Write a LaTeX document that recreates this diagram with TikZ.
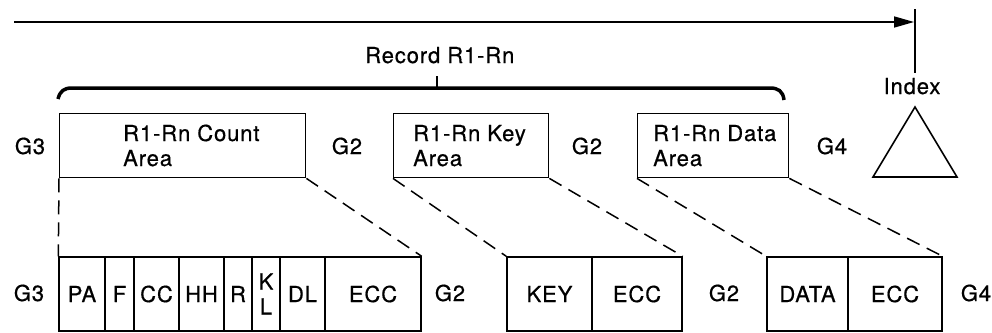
\documentclass[tikz,border=0pt]{standalone}
\usepackage{fontspec}
\setmainfont{TeX Gyre Heros}[LetterSpace=4,FakeBold=0.6]
\usetikzlibrary{arrows.meta}
\tikzset{
  txt/.style={inner sep=0pt, font=\fontsize{22}{26}\selectfont},
  lbl/.style={txt, anchor=base},
  boxtext/.style={txt, anchor=base west},
  areabox/.style={draw, line width=1.4pt, inner sep=0pt, anchor=north west, minimum height=64pt},
  cell/.style={draw, line width=1.4pt, inner sep=0pt, minimum height=74pt, txt},
  conn/.style={line width=1.5pt, dash pattern=on 14pt off 8pt},
}
\begin{document}
\begin{tikzpicture}[x=1pt,y=-1pt]
\useasboundingbox (0,0) rectangle (992,332);
% top arrow
\coordinate (as) at (14,22);
\coordinate (ae) at (914,22);
\draw[line width=1.7pt, -{Triangle[length=20pt,width=11pt]}] (as) -- (ae);
\coordinate (vt) at (915,9);
\coordinate (vb) at (915,73);
\draw[line width=1.4pt] (vt) -- (vb);
\node[lbl] (index) at (912,94) {Index};
% record label and brace
\node[txt, anchor=base west] (record) at (365,63) {Record R1-Rn};
\draw[line width=3.5pt] (58,99) .. controls (60,91) and (64,88) .. (72,88) -- (770,88) .. controls (778,88) and (783,91) .. (784,100);
\coordinate (tk1) at (437,76);
\coordinate (tk2) at (437,88);
\draw[line width=1.6pt] (tk1) -- (tk2);
% top boxes
\node[areabox, minimum width=246pt] (cnt) at (59,113) {};
\node[areabox, minimum width=155pt] (key) at (393,113) {};
\node[areabox, minimum width=151pt] (dat) at (637,113) {};
\node[boxtext] (cnt1) at (123,141) {R1-Rn Count};
\node[boxtext] (cnt2) at (123,166) {Area};
\node[boxtext] (key1) at (413,141) {R1-Rn Key};
\node[boxtext] (key2) at (413,166) {Area};
\node[boxtext] (dat1) at (653,141) {R1-Rn Data};
\node[boxtext] (dat2) at (653,166) {Area};
% gap labels top
\node[lbl] (g3a) at (30,154) {G3};
\node[lbl] (g2a) at (347,154) {G2};
\node[lbl] (g2b) at (587,154) {G2};
\node[lbl] (g4a) at (832,154) {G4};
% index triangle
\coordinate (ta) at (915,107);
\coordinate (tl) at (873,177);
\coordinate (tr) at (957,177);
\draw[line width=1.6pt, line join=miter] (ta) -- (tl) -- (tr) -- cycle;
% bottom fields
\node[cell, minimum width=46pt] (pa) at (82,294) {PA};
\node[cell, minimum width=29pt] (f) at (119.5,294) {F};
\node[cell, minimum width=45pt] (cc) at (156.5,294) {CC};
\node[cell, minimum width=45pt] (hh) at (201.5,294) {HH};
\node[cell, minimum width=28pt] (r) at (238,294) {R};
\node[cell, minimum width=28pt, align=center, font=\fontsize{22}{25}\selectfont] (kl) at (266,294) {K\\L};
\node[cell, minimum width=45pt] (dl) at (302.5,294) {DL};
\node[cell, minimum width=96pt] (ecc1) at (373,294) {ECC};
\node[cell, minimum width=85pt] (kf) at (549.5,294) {KEY};
\node[cell, minimum width=90pt] (ecc2) at (637,294) {ECC};
\node[cell, minimum width=81pt] (df) at (807.5,294) {DATA};
\node[cell, minimum width=94pt] (ecc3) at (895,294) {ECC};
% gap labels bottom
\node[lbl] (g3b) at (29,301) {G3};
\node[lbl] (g2c) at (450,301) {G2};
\node[lbl] (g2d) at (724,301) {G2};
\node[lbl] (g4b) at (976,301) {G4};
% dashed connectors
\draw[conn] (cnt.south west) -- (pa.north west);
\draw[conn] (cnt.south east) -- (ecc1.north east);
\draw[conn] (key.south west) -- (kf.north west);
\draw[conn] (key.south east) -- (ecc2.north east);
\draw[conn] (dat.south west) -- (df.north west);
\draw[conn] (dat.south east) -- (ecc3.north east);
\end{tikzpicture}
\end{document}
